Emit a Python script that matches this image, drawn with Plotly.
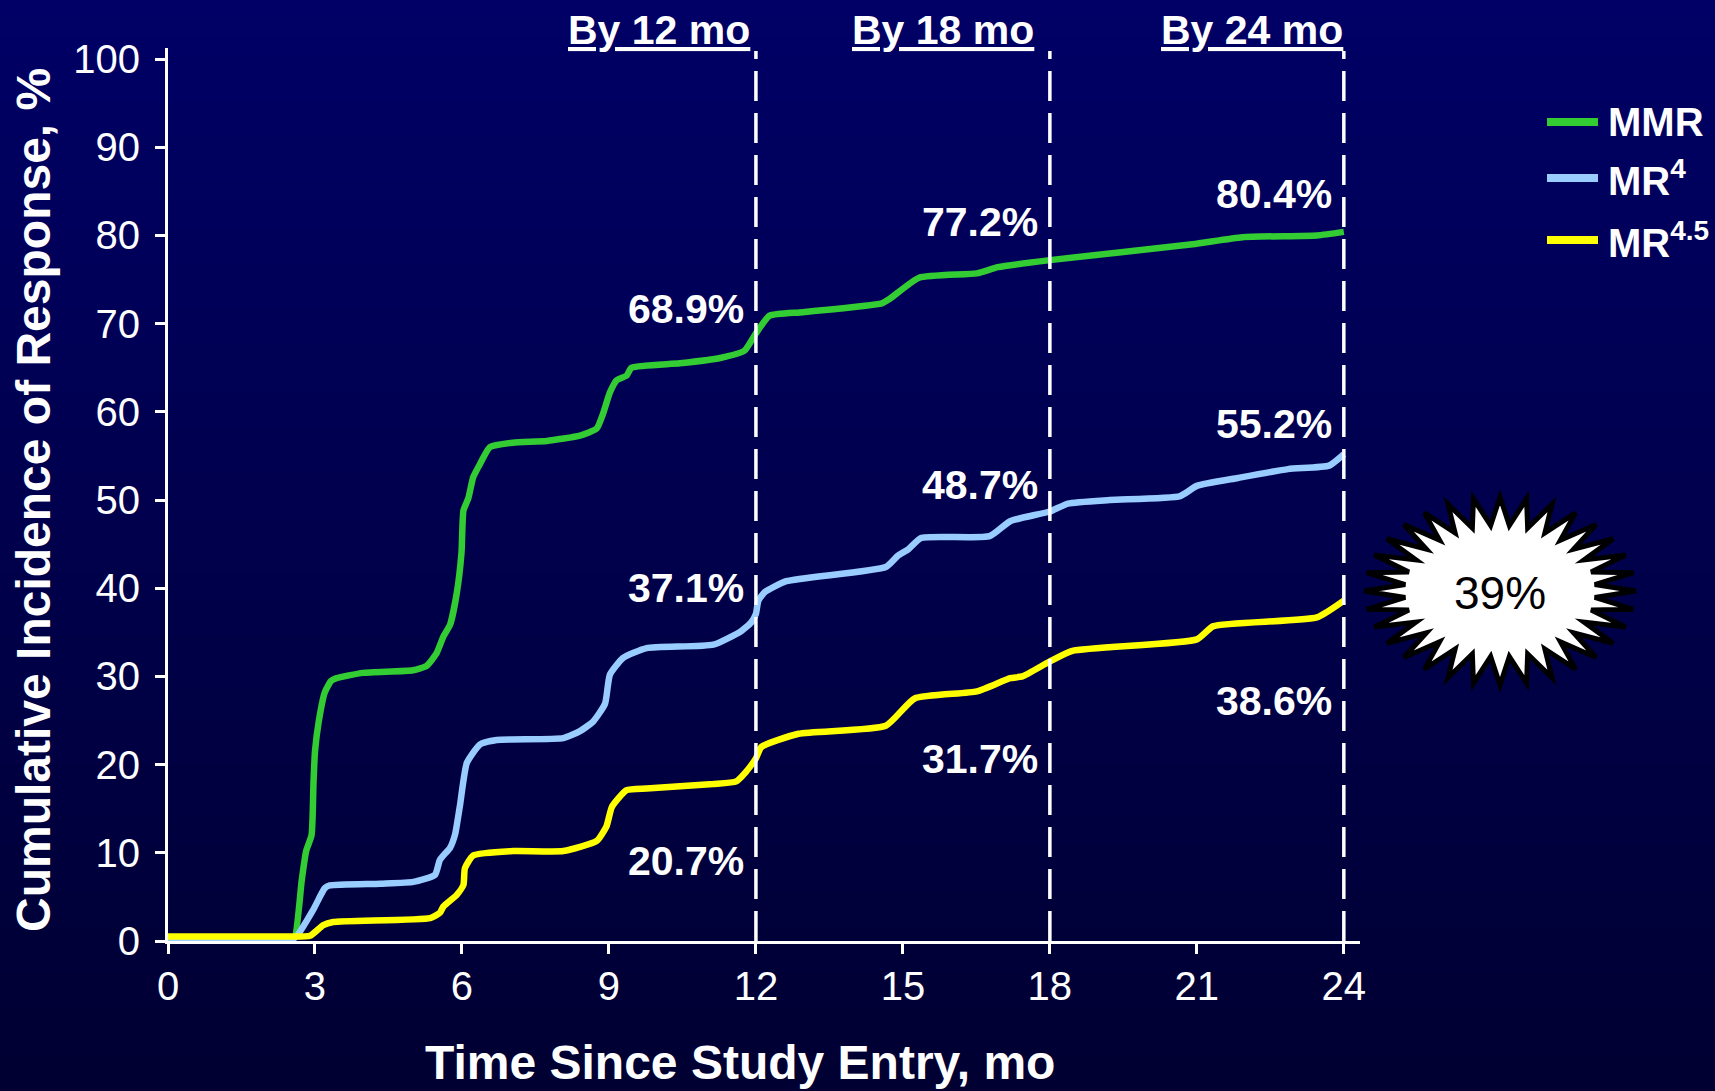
import math
import plotly.graph_objects as go

W, H = 1715, 1091

# ---- data -------------------------------------------------------------
months_mmr = [0, 2.5, 2.59, 2.73, 2.82, 2.93, 2.97, 3.0, 3.08, 3.2, 3.33, 3.44,
              3.98, 5.0, 5.28, 5.48, 5.62, 5.76, 5.89, 5.99, 6.03, 6.13, 6.23,
              6.37, 6.57, 7.04, 7.73, 8.41, 8.75, 8.88, 9.02, 9.16, 9.36, 9.46,
              10.45, 11.27, 11.77, 12.0, 12.28, 12.96, 14.57, 14.73, 15.33,
              16.51, 16.94, 18.0, 20.91, 21.93, 23.45, 24.0]
pct_mmr = [0.3, 0.3, 0.5, 6.9, 10.2, 12.0, 18.0, 21.5, 25.0, 28.2, 29.5, 29.8,
           30.4, 30.7, 31.2, 32.6, 34.5, 35.9, 39.3, 44.0, 48.8, 50.2, 52.6,
           54.1, 56.0, 56.5, 56.7, 57.3, 58.1, 59.8, 62.2, 63.6, 64.1, 65.0,
           65.5, 66.1, 66.95, 68.9, 70.9, 71.3, 72.3, 72.8, 75.2,
           75.7, 76.4, 77.2, 79.0, 79.8, 80.0, 80.4]

months_mr4 = [0, 2.3, 2.6, 2.96, 3.08, 3.2, 3.3, 4.33, 5.01, 5.45, 5.55, 5.76,
              5.86, 5.96, 6.10, 6.37, 6.71, 8.07, 8.41, 8.68, 8.92, 9.02, 9.29,
              9.77, 11.13, 11.69, 11.9, 12.0, 12.05, 12.19, 12.62, 14.65, 14.9,
              15.11, 15.37, 16.77, 17.19, 18.0, 18.37, 19.22, 20.66, 21.0,
              21.84, 22.86, 23.7, 23.96, 24.0]
pct_mr4 = [0.0, 0.0, 0.4, 3.5, 4.8, 6.0, 6.3, 6.5, 6.7, 7.5, 9.2, 10.6,
           12.1, 15.4, 20.2, 22.3, 22.8, 23.0, 23.8, 24.9, 26.9, 30.2, 32.1,
           33.2, 33.6, 35.1, 36.1, 37.1, 38.6, 39.6, 40.8, 42.4, 43.7,
           44.4, 45.7, 45.9, 47.6, 48.7, 49.6, 50.0, 50.45, 51.6,
           52.5, 53.5, 53.9, 55.0, 55.2]

months_mr45 = [0, 2.5, 2.9, 3.17, 3.37, 5.35, 5.55, 5.62, 5.89, 6.03, 6.06,
               6.23, 7.05, 8.07, 8.75, 8.95, 9.06, 9.36, 9.77, 11.13, 11.6,
               11.77, 12.0, 12.11, 12.87, 14.65, 15.24, 16.51, 17.19, 17.44,
               18.0, 18.46, 21.0, 21.34, 23.45, 24.0]
pct_mr45 = [0.5, 0.5, 0.6, 1.8, 2.15, 2.6, 3.2, 3.9, 5.2, 6.35, 8.25,
            9.7, 10.2, 10.2, 11.35, 13.0, 15.2, 17.1, 17.3, 17.8, 18.1,
            19.0, 20.7, 22.0, 23.5, 24.4, 27.5, 28.3, 29.8, 30.0,
            31.7, 32.9, 34.2, 35.7, 36.7, 38.6]

series_names = ["MMR", "MR<sup>4</sup>", "MR<sup>4.5</sup>"]
milestones = [12, 18, 24]
milestone_titles = ["By 12 mo", "By 18 mo", "By 24 mo"]
milestone_mmr = [68.9, 77.2, 80.4]
milestone_mr4 = [37.1, 48.7, 55.2]
milestone_mr45 = [20.7, 31.7, 38.6]
highlight_text = "39%"

x_ticks = list(range(0, 25, 3))
y_ticks = list(range(0, 101, 10))

# ---- styling ----------------------------------------------------------
FONT = "Liberation Sans, Arial, sans-serif"
colors = ["#33CC33", "#99CCFF", "#FFFF00"]
series = [
    (series_names[0], months_mmr, pct_mmr, colors[0], milestone_mmr, [24, 38, 38]),
    (series_names[1], months_mr4, pct_mr4, colors[1], milestone_mr4, [26, 26, 30]),
    (series_names[2], months_mr45, pct_mr45, colors[2], milestone_mr45, [-103, -98, -100]),
]


def px(x):
    return x / W


def py(y):
    return 1 - y / H


fig = go.Figure()

for name, xs, ys, col, _, _ in series:
    fig.add_trace(go.Scatter(
        x=xs, y=ys, mode="lines", name=name, showlegend=False,
        line=dict(color=col, width=6.5, shape="spline", smoothing=0.5),
        hoverinfo="skip",
    ))

shapes = []
annotations = []

# vertical background gradient made of thin bands
top_rgb = (0, 0, 102)
bot_rgb = (0, 0, 50)
n_bands = 120
for i in range(n_bands):
    t = i / (n_bands - 1)
    c = tuple(round(top_rgb[k] + (bot_rgb[k] - top_rgb[k]) * t) for k in range(3))
    y0 = 1 - i / n_bands
    y1 = 1 - (i + 1) / n_bands
    shapes.append(dict(type="rect", xref="paper", yref="paper", x0=0, x1=1,
                       y0=max(y1 - 0.001, 0), y1=y0, layer="below",
                       line=dict(width=0), fillcolor="rgb(%d,%d,%d)" % c))

# milestone reference lines and headers
header_shift = [-4, -14, 1]
for m, title, dx in zip(milestones, milestone_titles, header_shift):
    shapes.append(dict(type="line", xref="x", yref="y", x0=m, x1=m, y0=0, y1=100.9,
                       line=dict(color="white", width=3.5, dash="30px,12px")))
    annotations.append(dict(x=m, y=py(30), xref="x", yref="paper",
                            text="<u>%s</u>" % title, showarrow=False,
                            xanchor="right", yanchor="middle", xshift=dx,
                            font=dict(family=FONT, size=41, color="white", weight="bold")))

# milestone value labels
for name, xs, ys, col, vals, offs in series:
    for m, v, off in zip(milestones, vals, offs):
        annotations.append(dict(x=m, y=v, xref="x", yref="y", text="%.1f%%" % v,
                                showarrow=False, xanchor="right", yanchor="middle",
                                xshift=-10, yshift=off,
                                font=dict(family=FONT, size=41, color="white", weight="bold")))

# legend
legend_y = [122, 178, 240]
for (name, _, _, col, _, _), ly in zip(series, legend_y):
    shapes.append(dict(type="line", xref="paper", yref="paper",
                       x0=px(1547), x1=px(1598), y0=py(ly), y1=py(ly),
                       line=dict(color=col, width=8)))
    annotations.append(dict(x=px(1606), y=py(ly), xref="paper", yref="paper",
                            text=name, showarrow=False, xanchor="left", yanchor="middle",
                            font=dict(family=FONT, size=40, color="white", weight="bold")))

# starburst callout
cx, cy = 1500, 591
rx, ry = 136, 94
n_pts = 32
inner = 0.70
pts = []
for k in range(2 * n_pts):
    a = math.pi / 2 + k * math.pi / n_pts
    r = 1.0 if k % 2 == 0 else inner
    pts.append((cx + rx * r * math.cos(a), cy - ry * r * math.sin(a)))
path = "M " + " L ".join("%.5f,%.5f" % (px(x), py(y)) for x, y in pts) + " Z"
shapes.append(dict(type="path", xref="paper", yref="paper", path=path,
                   fillcolor="white", line=dict(color="black", width=5)))
annotations.append(dict(x=px(cx), y=py(cy + 2), xref="paper", yref="paper",
                        text=highlight_text, showarrow=False,
                        xanchor="center", yanchor="middle",
                        font=dict(family=FONT, size=46, color="black")))

# axis titles
annotations.append(dict(x=px(740), y=py(1062), xref="paper", yref="paper",
                        text="Time Since Study Entry, mo", showarrow=False,
                        xanchor="center", yanchor="middle",
                        font=dict(family=FONT, size=48, color="white", weight="bold")))
annotations.append(dict(x=px(33), y=py(500), xref="paper", yref="paper",
                        text="Cumulative Incidence of Response, %", showarrow=False,
                        textangle=-90, xanchor="center", yanchor="middle",
                        font=dict(family=FONT, size=48, color="white", weight="bold")))

axis_common = dict(showgrid=False, zeroline=False, showline=True, linecolor="white",
                   linewidth=3, ticks="outside", ticklen=10, tickwidth=3,
                   tickcolor="white", fixedrange=True, automargin=False,
                   tickfont=dict(family=FONT, size=40, color="white"))

fig.update_layout(
    width=W, height=H,
    margin=dict(l=0, r=0, t=0, b=0, pad=0, autoexpand=False),
    paper_bgcolor="rgb(0,0,50)",
    plot_bgcolor="rgba(0,0,0,0)",
    shapes=shapes,
    annotations=annotations,
    showlegend=False,
    xaxis=dict(domain=[px(168), px(1360)], range=[0, 24.33],
               tickvals=x_ticks, ticklabelstandoff=-2, **axis_common),
    yaxis=dict(domain=[py(941), py(48)], range=[0, 101.25],
               tickvals=y_ticks, ticklabelstandoff=7, **axis_common),
)

fig.write_html("out.html")
